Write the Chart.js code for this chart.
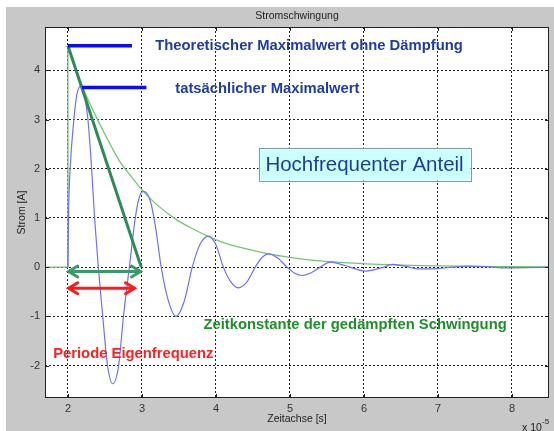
<!DOCTYPE html>
<html>
<head>
<meta charset="utf-8">
<script src="https://cdn.jsdelivr.net/npm/chart.js@4/dist/chart.umd.min.js"></script>
<style>
  html, body { margin: 0; padding: 0; background: #fff; }
  canvas { display: block; }
</style>
</head>
<body>
<canvas id="stromChart" width="554" height="431"></canvas>
<script>
// values (time in 1e-5 s, current in A)
var blueX = [2.0, 2.01, 2.03, 2.08, 2.12, 2.17, 2.22, 2.27, 2.32, 2.36, 2.41, 2.47, 2.535, 2.605, 2.685, 2.75, 2.83, 2.91, 2.96, 3.02, 3.11, 3.18, 3.26, 3.36, 3.46, 3.57, 3.68, 3.78, 3.90, 4.00, 4.10, 4.20, 4.30, 4.42, 4.53, 4.62, 4.71, 4.84, 4.96, 5.06, 5.16, 5.28, 5.41, 5.545, 5.68, 5.81, 6.02, 6.27, 6.38, 6.55, 6.75, 7.0, 7.2, 7.4, 7.7, 7.9, 8.2, 8.5];
var blueY = [0, 1.2, 2.0, 3.0, 3.5, 3.68, 3.5, 3.0, 2.0, 1.0, 0, -1.0, -2.0, -2.37, -2.0, -1.0, 0, 1.0, 1.4, 1.54, 1.36, 0.85, 0, -0.7, -1.0, -0.7, 0, 0.45, 0.63, 0.45, 0, -0.3, -0.42, -0.3, 0, 0.19, 0.27, 0.18, 0, -0.12, -0.17, -0.12, 0, 0.10, 0.06, 0, -0.08, 0, 0.055, 0.02, -0.035, -0.03, 0, 0.02, 0.005, -0.015, -0.01, 0];

var stepX = [1.69, 2.0, 2.0];
var stepY = [0, 0, 4.5];

var envX = [2.0, 2.1, 2.2, 2.35, 2.5, 2.7, 2.85, 3.0, 3.2, 3.47, 3.7, 3.9, 4.1, 4.33, 4.71, 5.0, 5.41, 5.8, 6.1, 6.63, 7.0, 7.5, 8.0, 8.5];
var envY = [4.5, 4.05, 3.65, 3.15, 2.7, 2.15, 1.85, 1.57, 1.27, 0.96, 0.77, 0.62, 0.5, 0.4, 0.27, 0.2, 0.125, 0.085, 0.062, 0.035, 0.025, 0.015, 0.01, 0.006];

var tangentX = [2.0, 2.99];
var tangentY = [4.5, 0];

var theoMaxX = [2.0, 2.865];
var theoMaxY = [4.5, 4.5];
var realMaxX = [2.19, 3.06];
var realMaxY = [3.65, 3.65];

var tauArrowX = [2.01, 2.98];
var tauArrowY = [-0.09, -0.09];
var periodArrowX = [2.01, 2.9];
var periodArrowY = [-0.43, -0.43];

var xTicks = [2, 3, 4, 5, 6, 7, 8];
var yTicks = [-2, -1, 0, 1, 2, 3, 4];

var notes = [
  { text: 'Theoretischer Maximalwert ohne Dämpfung', x: 3.18, y: 4.49, color: '#1f3ca6', font: 'bold 14.8px "Liberation Sans", Arial, sans-serif' },
  { text: 'tatsächlicher Maximalwert', x: 3.45, y: 3.63, color: '#1f3ca6', font: 'bold 14.8px "Liberation Sans", Arial, sans-serif' },
  { text: 'Zeitkonstante der gedämpften Schwingung', x: 3.83, y: -1.165, color: '#1f8f2a', font: 'bold 14.8px "Liberation Sans", Arial, sans-serif' },
  { text: 'Periode Eigenfrequenz', x: 1.80, y: -1.77, color: '#ff2020', font: 'bold 14.8px "Liberation Sans", Arial, sans-serif' }
];
var boxNote = { text: 'Hochfrequenter Anteil', x1: 4.575, x2: 7.44, y1: 2.43, y2: 1.76 };

function pts(xs, ys) {
  return xs.map(function (x, i) { return { x: x, y: ys[i] }; });
}

function arrowHead(ctx, x, y, dir, color) {
  ctx.save();
  ctx.strokeStyle = color;
  ctx.lineWidth = 3;
  ctx.lineCap = 'round';
  ctx.beginPath();
  ctx.moveTo(x + dir * 9, y - 5.5);
  ctx.lineTo(x, y);
  ctx.lineTo(x + dir * 9, y + 5.5);
  ctx.stroke();
  ctx.restore();
}

var matlabLook = {
  id: 'matlabLook',
  beforeDraw: function (chart) {
    var ctx = chart.ctx, a = chart.chartArea;
    ctx.save();
    ctx.fillStyle = '#ffffff';
    ctx.fillRect(0, 0, chart.width, chart.height);
    ctx.fillStyle = '#c8c8c8';
    ctx.fillRect(6, 7, chart.width - 6, chart.height - 7);
    ctx.fillStyle = '#ffffff';
    ctx.fillRect(a.left, a.top, a.right - a.left, a.bottom - a.top);
    ctx.restore();
  },
  afterDraw: function (chart) {
    var ctx = chart.ctx, a = chart.chartArea;
    var sx = chart.scales.x, sy = chart.scales.y;
    ctx.save();
    // box
    ctx.strokeStyle = '#222';
    ctx.lineWidth = 1;
    ctx.strokeRect(a.left + 0.5, a.top + 0.5, a.right - a.left - 1, a.bottom - a.top - 1);
    // inward tick marks
    ctx.beginPath();
    xTicks.forEach(function (v) {
      var px = Math.round(sx.getPixelForValue(v)) + 0.5;
      ctx.moveTo(px, a.bottom); ctx.lineTo(px, a.bottom - 4);
      ctx.moveTo(px, a.top); ctx.lineTo(px, a.top + 4);
    });
    yTicks.forEach(function (v) {
      var py = Math.round(sy.getPixelForValue(v)) + 0.5;
      ctx.moveTo(a.left, py); ctx.lineTo(a.left + 4, py);
      ctx.moveTo(a.right, py); ctx.lineTo(a.right - 4, py);
    });
    ctx.stroke();

    // title and exponent
    ctx.fillStyle = '#222';
    ctx.font = '10.5px "Liberation Sans", Arial, sans-serif';
    ctx.textAlign = 'center';
    ctx.textBaseline = 'middle';
    ctx.fillText('Stromschwingung', (a.left + a.right) / 2, 16);
    ctx.textAlign = 'left';
    ctx.font = '10.5px "Liberation Sans", Arial, sans-serif';
    ctx.fillText('x 10', 522, 428);
    ctx.font = '8px "Liberation Sans", Arial, sans-serif';
    ctx.fillText('-5', 542, 422);

    // arrow heads
    arrowHead(ctx, sx.getPixelForValue(tauArrowX[0]), sy.getPixelForValue(tauArrowY[0]), 1, '#3a9a6a');
    arrowHead(ctx, sx.getPixelForValue(tauArrowX[1]), sy.getPixelForValue(tauArrowY[1]), -1, '#3a9a6a');
    arrowHead(ctx, sx.getPixelForValue(periodArrowX[0]), sy.getPixelForValue(periodArrowY[0]), 1, '#ff1a1a');
    arrowHead(ctx, sx.getPixelForValue(periodArrowX[1]), sy.getPixelForValue(periodArrowY[1]), -1, '#ff1a1a');

    // text notes
    notes.forEach(function (n) {
      ctx.font = n.font;
      ctx.fillStyle = n.color;
      ctx.textAlign = 'left';
      ctx.textBaseline = 'middle';
      ctx.fillText(n.text, sx.getPixelForValue(n.x), sy.getPixelForValue(n.y));
    });

    // boxed note
    var bx1 = sx.getPixelForValue(boxNote.x1), bx2 = sx.getPixelForValue(boxNote.x2);
    var by1 = sy.getPixelForValue(boxNote.y1), by2 = sy.getPixelForValue(boxNote.y2);
    ctx.fillStyle = '#ccffff';
    ctx.fillRect(bx1, by1, bx2 - bx1, by2 - by1);
    ctx.strokeStyle = '#8a9a9a';
    ctx.lineWidth = 1;
    ctx.strokeRect(Math.round(bx1) + 0.5, Math.round(by1) + 0.5, Math.round(bx2 - bx1), Math.round(by2 - by1));
    ctx.fillStyle = '#1f3c9c';
    ctx.font = '20.5px "Liberation Sans", Arial, sans-serif';
    ctx.textAlign = 'center';
    ctx.fillText(boxNote.text, (bx1 + bx2) / 2, (by1 + by2) / 2 + 1);
    ctx.restore();
  }
};

var thin = { pointRadius: 0, fill: false };

var stromChart = new Chart(document.getElementById('stromChart').getContext('2d'), {
  type: 'line',
  data: {
    datasets: [
      Object.assign({ data: pts(theoMaxX, theoMaxY), borderColor: '#0a0aff', borderWidth: 3.5 }, thin),
      Object.assign({ data: pts(realMaxX, realMaxY), borderColor: '#0a0aff', borderWidth: 3.5 }, thin),
      Object.assign({ data: pts(tauArrowX, tauArrowY), borderColor: '#3a9a6a', borderWidth: 3 }, thin),
      Object.assign({ data: pts(periodArrowX, periodArrowY), borderColor: '#ff1a1a', borderWidth: 3 }, thin),
      Object.assign({ data: pts(tangentX, tangentY), borderColor: '#2e8b57', borderWidth: 3 }, thin),
      Object.assign({ data: pts(blueX, blueY), borderColor: '#7070ff', borderWidth: 1.2, cubicInterpolationMode: 'monotone' }, thin),
      Object.assign({ data: pts(envX, envY), borderColor: '#74c474', borderWidth: 1.3, cubicInterpolationMode: 'monotone' }, thin),
      Object.assign({ data: pts(stepX, stepY), borderColor: '#74c474', borderWidth: 1.3 }, thin)
    ]
  },
  options: {
    responsive: false,
    animation: false,
    devicePixelRatio: 1,
    layout: { padding: { top: 27, right: 5, left: 0, bottom: 0 } },
    plugins: { legend: { display: false }, tooltip: { enabled: false } },
    scales: {
      x: {
        type: 'linear', min: 1.69, max: 8.5,
        afterBuildTicks: function (s) { s.ticks = xTicks.map(function (v) { return { value: v }; }); },
        afterFit: function (s) { s.height = 33; },
        grid: { color: '#222', lineWidth: 1, drawTicks: false },
        border: { display: false, dash: [2, 2] },
        ticks: { padding: 4, color: '#333', font: { family: '"Liberation Sans", Arial, sans-serif', size: 11 }, maxRotation: 0 },
        title: { display: true, text: 'Zeitachse [s]', color: '#222', padding: { top: 0, bottom: 6 }, font: { family: '"Liberation Sans", Arial, sans-serif', size: 10.5 } }
      },
      y: {
        type: 'linear', min: -2.66, max: 4.88,
        afterBuildTicks: function (s) { s.ticks = yTicks.map(function (v) { return { value: v }; }); },
        afterFit: function (s) { s.width = 45; },
        grid: { color: '#222', lineWidth: 1, drawTicks: false },
        border: { display: false, dash: [2, 2] },
        ticks: { padding: 5, color: '#333', font: { family: '"Liberation Sans", Arial, sans-serif', size: 11 } },
        title: { display: true, text: 'Strom [A]', color: '#222', padding: { top: 16, bottom: 0 }, font: { family: '"Liberation Sans", Arial, sans-serif', size: 10.5 } }
      }
    }
  },
  plugins: [matlabLook]
});
</script>
</body>
</html>
